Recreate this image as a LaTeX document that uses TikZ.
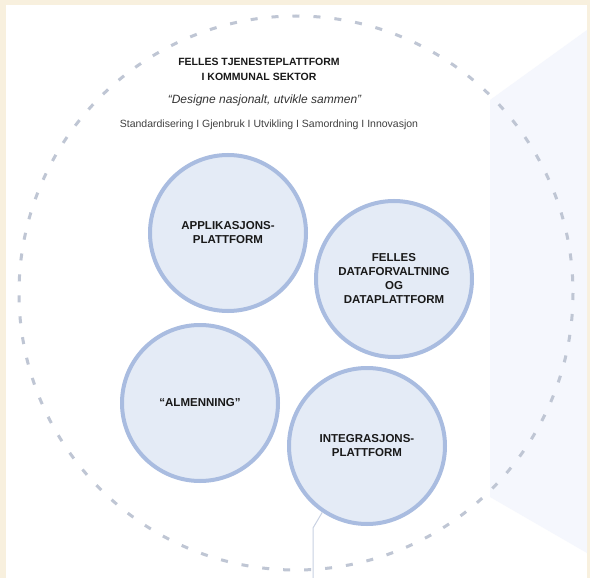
\documentclass[tikz,border=0pt]{standalone}
\usepackage{fontspec}
\setmainfont{Liberation Sans}
\usepackage{xcolor}
\usepackage{tikz}
\definecolor{creambg}{HTML}{F8F0DE}
\definecolor{ringgray}{HTML}{BFC6D4}
\definecolor{discfill}{HTML}{E4EBF6}
\definecolor{discedge}{HTML}{A9BCE0}
\definecolor{panelblue}{HTML}{F5F7FD}
\definecolor{linkgray}{HTML}{C9D1E2}

\begin{document}
\begin{tikzpicture}[
    x=1pt, y=-1pt,
    disc/.style={circle, draw=discedge, line width=4pt, fill=discfill, minimum size=156pt, align=center, text=black!90, font=\fontsize{11.5}{14}\selectfont\bfseries},
    ring/.style={draw=ringgray, line width=3pt, dash pattern=on 7pt off 14pt},
    link/.style={draw=linkgray, line width=1pt}
]
\useasboundingbox (0,0) rectangle (590,578);
\fill[creambg] (0,0) rectangle (590,578);
\fill[white] (6,5) rectangle (587,578);
\fill[panelblue] (587,30) -- (490,100) -- (490,497) -- (587,553) -- cycle;
\draw[ring] (296,293) circle[radius=277];

\node[align=center, text=black!90, font=\fontsize{10.5}{15}\selectfont\bfseries] (title) at (259,69.5) {FELLES TJENESTEPLATTFORM\\I KOMMUNAL SEKTOR};
\node[text=black!80, font=\fontsize{12}{14}\selectfont\itshape] (motto) at (264.5,100) {“Designe nasjonalt, utvikle sammen”};
\node[text=black!75, font=\fontsize{10.5}{12}\selectfont] (values) at (269,125) {Standardisering I Gjenbruk I Utvikling I Samordning I Innovasjon};

\node[disc] (appl) at (228,233) {APPLIKASJONS-\\PLATTFORM};
\node[disc] (data) at (394,279) {FELLES\\DATAFORVALTNING\\OG\\DATAPLATTFORM};
\node[disc] (almen) at (200,403) {“ALMENNING”};
\node[disc] (integ) at (367,446) {INTEGRASJONS-\\PLATTFORM};

\coordinate (bend) at (313,528);
\coordinate (foot) at (313,578);
\draw[link] (integ.236) -- (bend) -- (foot);
\end{tikzpicture}
\end{document}
